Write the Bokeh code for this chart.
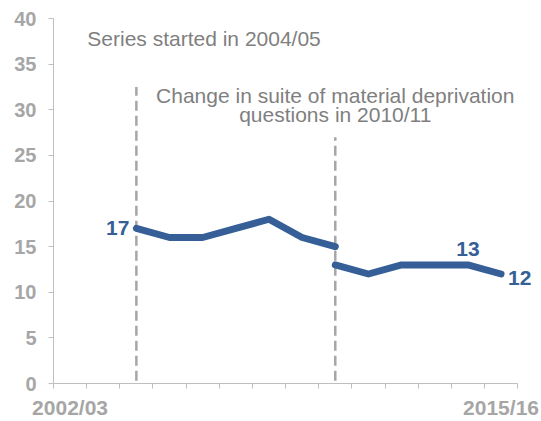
from bokeh.plotting import figure
from bokeh.models import Range1d, FixedTicker, Label
from bokeh.embed import file_html
from bokeh.resources import INLINE

years = ["2002/03", "2003/04", "2004/05", "2005/06", "2006/07", "2007/08", "2008/09",
         "2009/10", "2010/11", "2011/12", "2012/13", "2013/14", "2014/15", "2015/16"]
old_years = ["2004/05", "2005/06", "2006/07", "2007/08", "2008/09", "2009/10", "2010/11"]
old_values = [17, 16, 16, 17, 18, 16, 15]
new_years = ["2010/11", "2011/12", "2012/13", "2013/14", "2014/15", "2015/16"]
new_values = [13, 12, 13, 13, 13, 12]
x_tick_labels = ["2002/03", "2015/16"]
y_ticks = [0, 5, 10, 15, 20, 25, 30, 35, 40]

pos = {y: i for i, y in enumerate(years)}
LINE = "#355f96"
AXIS_TXT = "#a6a6a6"
NOTE = "#7f7f7f"
FONT = "Liberation Sans"

p = figure(width=541, height=421, output_backend="svg", toolbar_location=None,
           x_range=Range1d(-0.5, len(years) - 0.5 + 0.63), y_range=Range1d(0, 40),
           min_border_left=53, min_border_right=3, min_border_top=18, min_border_bottom=36)
p.outline_line_color = None
p.xgrid.visible = False
p.ygrid.visible = False
p.background_fill_color = "white"
p.border_fill_color = "white"

# axes
xa = p.xaxis[0]
xa.bounds = (-0.5, len(years) - 0.5)
xa.ticker = FixedTicker(ticks=[pos[t] for t in x_tick_labels],
                        minor_ticks=[i - 0.5 for i in range(len(years) + 1)])
xa.major_label_overrides = {pos[t]: t for t in x_tick_labels}
xa.major_tick_out = 0
xa.major_tick_in = 0
xa.minor_tick_out = 5
xa.minor_tick_in = 0
xa.minor_tick_line_color = "#bfbfbf"
xa.axis_line_color = "#bfbfbf"
xa.major_label_standoff = 7
xa.major_label_text_font = FONT
xa.major_label_text_font_style = "bold"
xa.major_label_text_font_size = "21px"
xa.major_label_text_color = AXIS_TXT

ya = p.yaxis[0]
ya.ticker = FixedTicker(ticks=y_ticks)
ya.major_tick_out = 5
ya.major_tick_in = 0
ya.minor_tick_line_color = None
ya.major_tick_line_color = "#bfbfbf"
ya.axis_line_color = "#bfbfbf"
ya.major_label_standoff = 12
ya.major_label_text_font = FONT
ya.major_label_text_font_style = "bold"
ya.major_label_text_font_size = "20px"
ya.major_label_text_color = AXIS_TXT

# dashed markers for series start / break
p.segment(x0=[pos["2004/05"], pos["2010/11"]], y0=[0.3, 0.3],
          x1=[pos["2004/05"], pos["2010/11"]], y1=[32.5, 27],
          line_color="#a6a6a6", line_width=2.5, line_dash="10 5")

# series
p.line([pos[y] for y in old_years], old_values, line_color=LINE, line_width=7,
       line_cap="round", line_join="round")
p.line([pos[y] for y in new_years], new_values, line_color=LINE, line_width=7,
       line_cap="round", line_join="round")

# data labels
def dlabel(x, y, txt, align, xo=0, yo=0):
    p.add_layout(Label(x=x, y=y, text=txt, text_font=FONT, text_font_style="bold",
                       text_font_size="21px", text_color=LINE, text_align=align,
                       text_baseline="middle", x_offset=xo, y_offset=yo))

dlabel(pos[old_years[0]], old_values[0], str(old_values[0]), "right", xo=-7)
dlabel(pos[new_years[4]], new_values[4], str(new_values[4]), "center", yo=16)
dlabel(pos[new_years[-1]], new_values[-1], str(new_values[-1]), "left", xo=7, yo=-4)

# notes
def note(x, y, txt, align):
    p.add_layout(Label(x=x, y=y, text=txt, text_font=FONT, text_font_size="21px",
                       text_color=NOTE, text_align=align, text_baseline="alphabetic"))

note(0.52, 37.85, "Series started in 2004/05", "left")
note(pos["2010/11"], 31.6, "Change in suite of material deprivation", "center")
note(pos["2010/11"], 29.5, "questions in 2010/11", "center")

open("out.html", "w").write(file_html(p, INLINE))
